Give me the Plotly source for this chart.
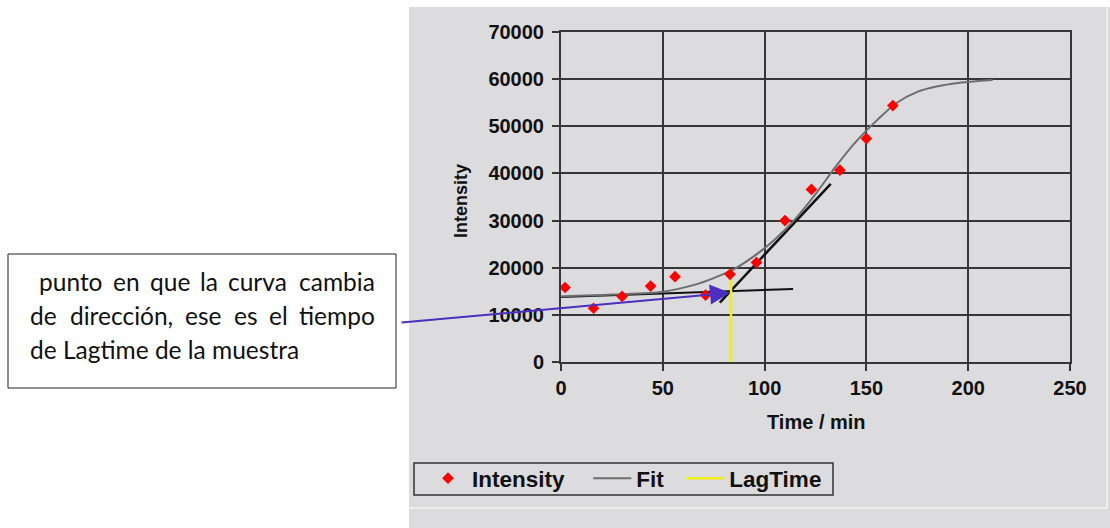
import plotly.graph_objects as go

# ---------------- data ----------------
time_min = [2, 16, 30, 44, 56, 71, 83, 96, 110, 123, 137, 150, 163]
intensity = [15800, 11400, 13900, 16100, 18100, 14200, 18600, 21100, 30000, 36600, 40700, 47400, 54400]

fit_time = [0, 25, 50, 65, 75, 85, 95, 105, 115, 125, 135, 145, 155, 165, 175, 185, 195, 205, 212]
fit_intensity = [13900, 14300, 14900, 16300, 17800, 19700, 22500, 26000, 30300, 35600, 41500,
                 46800, 51200, 55000, 57300, 58500, 59200, 59600, 59800]

baseline_time = [0, 114]
baseline_intensity = [13800, 15500]

slope_time = [78, 132.5]
slope_intensity = [12600, 37800]

lag_time = [83.5, 83.5]
lag_intensity = [0, 18300]

arrow_tip = (83, 14700)

x_ticks = [0, 50, 100, 150, 200, 250]
y_ticks = [0, 10000, 20000, 30000, 40000, 50000, 60000, 70000]

legend_names = ["Intensity", "Fit", "LagTime"]

note_lines = [
    ["punto", "en", "que", "la", "curva", "cambia"],
    ["de", "dirección,", "ese", "es", "el", "tiempo"],
    ["de Lagtime de la muestra"],
]

# ---------------- layout helpers (pixel -> paper) ----------------
L, R, T, B = 561, 1070, 32, 362
W, H = 1110, 528


def px2x(px):
    return (px - L) / (R - L)


def py2y(py):
    return (B - py) / (B - T)


GRID = "#363636"
PANEL = "#dcdbdd"
FONT = "Liberation Sans, Arial, sans-serif"
NB = "\u00a0"

fig = go.Figure()

fig.add_trace(go.Scatter(x=baseline_time, y=baseline_intensity, mode="lines",
                         line=dict(color="#111111", width=2), showlegend=False, hoverinfo="skip"))
fig.add_trace(go.Scatter(x=slope_time, y=slope_intensity, mode="lines",
                         line=dict(color="#111111", width=2.5), showlegend=False, hoverinfo="skip"))
fig.add_trace(go.Scatter(x=fit_time, y=fit_intensity, mode="lines", name=legend_names[1] + NB * 2,
                         line=dict(color="#6e6e6e", width=2, shape="spline"), legendrank=2))
fig.add_trace(go.Scatter(x=lag_time, y=lag_intensity, mode="lines", name=legend_names[2],
                         line=dict(color="#f2ee1a", width=2.5), legendrank=3))
fig.add_trace(go.Scatter(x=time_min, y=intensity, mode="markers", name=legend_names[0] + NB * 3,
                         marker=dict(symbol="diamond", size=9, color="#ff0000"), legendrank=1))

shapes = [
    # grey chart panel
    dict(type="rect", xref="paper", yref="paper", x0=px2x(409), x1=px2x(1110),
         y0=py2y(528), y1=py2y(7), fillcolor=PANEL, line=dict(width=0), layer="below"),
    dict(type="line", xref="paper", yref="paper", x0=px2x(1107), x1=px2x(1107),
         y0=py2y(508), y1=py2y(7), line=dict(color="#eeeeeb", width=2), layer="below"),
    dict(type="line", xref="paper", yref="paper", x0=px2x(409), x1=px2x(1107),
         y0=py2y(508), y1=py2y(508), line=dict(color="#eeeeeb", width=2), layer="below"),
    # legend frame
    dict(type="rect", xref="paper", yref="paper", x0=px2x(414), x1=px2x(833),
         y0=py2y(495), y1=py2y(463), line=dict(color="#333333", width=1.5), layer="below"),
    # note box
    dict(type="rect", xref="paper", yref="paper", x0=px2x(8), x1=px2x(396),
         y0=py2y(388), y1=py2y(254), fillcolor="white", line=dict(color="#222222", width=1)),
]

annotations = [
    dict(text="Time / min", xref="paper", yref="paper", x=px2x(816), y=py2y(422),
         xanchor="center", yanchor="middle", showarrow=False,
         font=dict(family=FONT, size=20, color="#111", weight="bold")),
    dict(text="Intensity", xref="paper", yref="paper", x=px2x(461), y=py2y(201), textangle=-90,
         xanchor="center", yanchor="middle", showarrow=False,
         font=dict(family=FONT, size=18, color="#111", weight="bold")),
    dict(text="", x=arrow_tip[0], y=arrow_tip[1], xref="x", yref="y", ax=400 - 730, ay=322 - 292,
         showarrow=True, arrowhead=2, arrowsize=2, arrowwidth=2, arrowcolor="#4b2fc0"),
]

# justified note text: word left edges (px) per line
word_x = [
    [37, 110.5, 147.5, 198, 226, 377],
    [28, 68, 183, 232, 267, 377],
    [28],
]
line_y = [281, 315, 349]
for words, xs, yy in zip(note_lines, word_x, line_y):
    for i, (w, xx) in enumerate(zip(words, xs)):
        last = (i == len(words) - 1) and len(words) > 1
        annotations.append(dict(text=w, xref="paper", yref="paper", x=px2x(xx), y=py2y(yy),
                                xanchor="right" if last else "left", yanchor="middle",
                                showarrow=False,
                                font=dict(family="Lato, Carlito, sans-serif", size=24.5, color="#111")))

axis_common = dict(showgrid=True, gridcolor=GRID, gridwidth=2, zeroline=False,
                   showline=True, linecolor=GRID, linewidth=2, mirror=True,
                   ticks="outside", ticklen=7, tickwidth=2, tickcolor=GRID,
                   tickfont=dict(family=FONT, size=20, color="#111", weight="bold"))

fig.update_xaxes(range=[0, 250], tickvals=x_ticks, **axis_common)
fig.update_yaxes(range=[0, 70000], tickvals=y_ticks, ticktext=[str(v) for v in y_ticks],
                 ticklabelstandoff=4, **axis_common)

fig.update_layout(
    width=W, height=H,
    margin=dict(l=L, r=W - R, t=T, b=H - B, pad=0),
    paper_bgcolor="white", plot_bgcolor="rgba(0,0,0,0)",
    shapes=shapes, annotations=annotations,
    showlegend=True,
    legend=dict(orientation="h", x=px2x(424), y=py2y(457), xanchor="left", yanchor="top",
                bgcolor="rgba(0,0,0,0)", borderwidth=0, itemwidth=38,
                font=dict(family=FONT, size=22.5, color="#111", weight="bold")),
)

fig.write_html("out.html")
